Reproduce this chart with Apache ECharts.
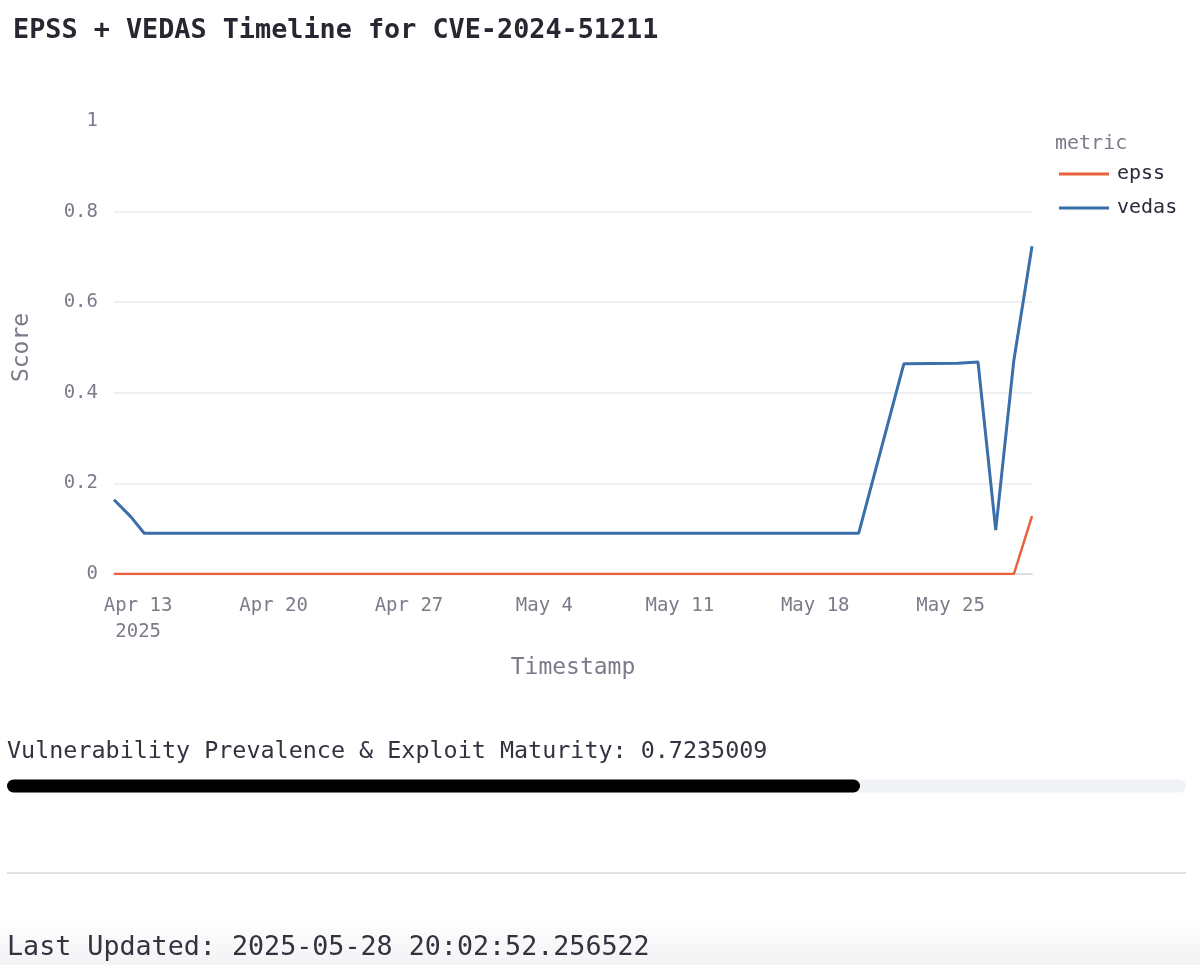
<!DOCTYPE html>
<html lang="en">
<head>
    <meta charset="UTF-8">
    <title>EPSS + VEDAS Timeline</title>
    <script type="text/javascript" src="https://cdn.jsdelivr.net/npm/echarts@6/dist/echarts.min.js"></script>
</head>
<style>
    html, body {
        margin: 0;
        padding: 0;
        background-color: #fff;
    }
    #chart {
        width: 1200px;
        height: 965px;
    }
</style>
<body>
<div id="chart"></div>
</body>
<script>
    // 数据
    var cveId = 'CVE-2024-51211';
    var timestamps = ['2025-04-11 18:00', '2025-04-12 15:00', '2025-04-13 07:30', '2025-05-20 06:00', '2025-05-22 14:00',
        '2025-05-25 09:00', '2025-05-26 10:00', '2025-05-27 08:00', '2025-05-28 06:30', '2025-05-29 05:00'];
    var epss = [0, 0, 0, 0, 0, 0, 0, 0, 0, 0.128];
    var vedas = [0.164, 0.126, 0.09, 0.09, 0.464, 0.465, 0.468, 0.097, 0.472, 0.7235009];
    var tickDates = ['2025-04-13', '2025-04-20', '2025-04-27', '2025-05-04', '2025-05-11', '2025-05-18', '2025-05-25'];
    var yTicks = [0, 0.2, 0.4, 0.6, 0.8, 1];
    var vedasScore = '0.7235009';
    var lastUpdated = '2025-05-28 20:02:52.256522';

    var months = ['Jan', 'Feb', 'Mar', 'Apr', 'May', 'Jun', 'Jul', 'Aug', 'Sep', 'Oct', 'Nov', 'Dec'];
    var mono = '"DejaVu Sans Mono", monospace';
    var grey = '#7b7b8a';

    function toTime(s) {
        return new Date(s.replace(' ', 'T')).getTime();
    }

    var tickValues = tickDates.map(function (d) { return toTime(d + ' 00:00'); });
    var epssData = timestamps.map(function (t, i) { return [toTime(t), epss[i]]; });
    var vedasData = timestamps.map(function (t, i) { return [toTime(t), vedas[i]]; });

    var myChart = echarts.init(document.getElementById('chart'));

    var option = {
        animation: false,
        title: [
            {
                text: 'EPSS + VEDAS Timeline for ' + cveId,
                left: 8,
                top: 13,
                textStyle: {fontFamily: mono, fontSize: 26.8, fontWeight: 'bold', color: '#262730'}
            },
            {
                text: 'Vulnerability Prevalence & Exploit Maturity: ' + vedasScore,
                left: 2,
                top: 735,
                textStyle: {fontFamily: mono, fontSize: 23.4, fontWeight: 'normal', color: '#31333f'}
            },
            {
                text: 'Last Updated: ' + lastUpdated,
                left: 2,
                top: 930,
                textStyle: {fontFamily: mono, fontSize: 26.7, fontWeight: 'normal', color: '#31333f'}
            }
        ],
        graphic: [
            {
                type: 'rect',
                silent: true,
                z: -1,
                shape: {x: 0, y: 915, width: 1200, height: 50},
                style: {
                    fill: new echarts.graphic.LinearGradient(0, 0, 0, 1, [
                        {offset: 0, color: '#ffffff'},
                        {offset: 1, color: '#f3f3f5'}
                    ])
                }
            },
            {
                type: 'text',
                left: 1055,
                top: 134,
                style: {text: 'metric', font: '20px ' + mono, fill: grey}
            },
            {
                type: 'line',
                shape: {x1: 7, y1: 873, x2: 1186, y2: 873},
                style: {stroke: '#d5d5db', lineWidth: 1.5}
            }
        ],
        legend: {
            orient: 'vertical',
            left: 1054,
            top: 159,
            icon: 'rect',
            itemWidth: 50,
            itemHeight: 3,
            itemGap: 14,
            data: ['epss', 'vedas'],
            textStyle: {fontFamily: mono, fontSize: 20, color: '#2a2a3a', lineHeight: 20, padding: [0, 0, 0, 3]}
        },
        grid: [
            {left: 114, right: 168, top: 121, height: 453},
            {left: 7, right: 14, top: 779, height: 14}
        ],
        xAxis: [
            {
                type: 'value',
                gridIndex: 0,
                min: toTime(timestamps[0]),
                max: toTime(timestamps[timestamps.length - 1]),
                name: 'Timestamp',
                nameLocation: 'middle',
                nameGap: 83,
                nameTextStyle: {fontFamily: mono, fontSize: 23, color: grey},
                axisLine: {show: true, lineStyle: {color: '#dcdce3', width: 2}},
                axisTick: {show: false},
                splitLine: {show: false},
                axisLabel: {
                    customValues: tickValues,
                    margin: 19,
                    fontFamily: mono,
                    fontSize: 19,
                    color: grey,
                    lineHeight: 26,
                    formatter: function (value) {
                        var d = new Date(value);
                        var s = months[d.getMonth()] + ' ' + d.getDate();
                        if (value === tickValues[0]) {
                            s += '\n' + d.getFullYear();
                        }
                        return s;
                    }
                }
            },
            {
                type: 'value',
                gridIndex: 1,
                min: 0,
                max: 1,
                show: false
            }
        ],
        yAxis: [
            {
                type: 'value',
                gridIndex: 0,
                min: yTicks[0],
                max: yTicks[yTicks.length - 1],
                interval: yTicks[1] - yTicks[0],
                name: 'Score',
                nameLocation: 'middle',
                nameGap: 80,
                nameTextStyle: {fontFamily: mono, fontSize: 23, color: grey},
                axisLine: {show: false},
                axisTick: {show: false},
                axisLabel: {margin: 16, fontFamily: mono, fontSize: 19, color: grey},
                splitLine: {show: true, showMinLine: false, showMaxLine: false, lineStyle: {color: '#e8e8ef', width: 1.5}}
            },
            {
                type: 'category',
                gridIndex: 1,
                data: [''],
                show: false
            }
        ],
        series: [
            {
                name: 'epss',
                type: 'line',
                xAxisIndex: 0,
                yAxisIndex: 0,
                data: epssData,
                symbol: 'none',
                color: '#e8603c',
                lineStyle: {width: 2.5, color: '#e8603c'}
            },
            {
                name: 'vedas',
                type: 'line',
                xAxisIndex: 0,
                yAxisIndex: 0,
                data: vedasData,
                symbol: 'none',
                color: '#3a6fa9',
                lineStyle: {width: 3, color: '#3a6fa9'}
            },
            {
                type: 'bar',
                xAxisIndex: 1,
                yAxisIndex: 1,
                data: [parseFloat(vedasScore)],
                barWidth: 13,
                itemStyle: {color: '#000', borderRadius: 7},
                showBackground: true,
                backgroundStyle: {color: '#f0f2f6', borderRadius: 7}
            }
        ]
    };
    myChart.setOption(option);
</script>
</html>
